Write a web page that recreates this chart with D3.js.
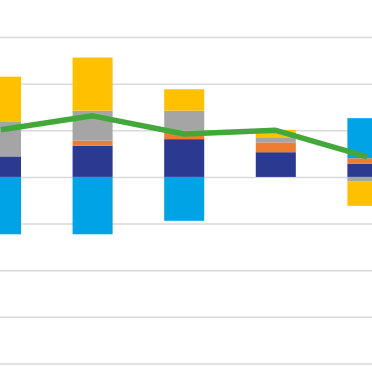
<!DOCTYPE html>
<html>
<head>
<meta charset="utf-8">
<script src="https://cdn.jsdelivr.net/npm/d3@7"></script>
<style>
  html, body { margin: 0; padding: 0; background: #fff; }
  .grid line { stroke: #d9d9d9; stroke-width: 1.5; }
  .grid .domain { display: none; }
</style>
</head>
<body>
<div id="chart"></div>
<script>
const chart_width = 372;
const chart_height = 372;

// categories (no labels visible in the crop)
const categories = ["C1", "C2", "C3", "C4", "C5"];

// stacked series, bottom to top for positives
const darkBlue  = [4.4, 6.7, 8.1, 5.3, 2.8];
const orange    = [0.0, 1.1, 1.8, 2.1, 1.2];
const gray      = [7.4, 6.4, 4.3, 1.1, -0.9];
const yellow    = [9.7, 11.4, 4.6, 1.6, -5.3];
const lightBlue = [-12.3, -12.3, -9.4, 0.0, 8.6];

// green line
const total = [10.1, 13.1, 9.2, 10.0, 4.3];

const gridTicks = [-40, -30, -20, -10, 0, 10, 20, 30];

const seriesKeys = ["darkBlue", "orange", "gray", "yellow", "lightBlue"];
const seriesColors = {
    darkBlue: "#2b3990",
    orange: "#ed7d31",
    gray: "#a5a5a5",
    yellow: "#ffc000",
    lightBlue: "#00a3e6"
};

function drawChart(htmlID) {

    let rows = categories.map((c, i) => ({
        cat: c,
        darkBlue: darkBlue[i],
        orange: orange[i],
        gray: gray[i],
        yellow: yellow[i],
        lightBlue: lightBlue[i],
        total: total[i]
    }));

    let svg = d3.select("#" + htmlID)
        .append("svg")
        .attr("width", chart_width)
        .attr("height", chart_height);

    // band scale extends past the visible area (chart is cropped)
    let x = d3.scaleBand()
        .domain(categories)
        .range([-44.8, 413.2])
        .paddingInner(0.563)
        .paddingOuter(0.2815);

    let y = d3.scaleLinear()
        .domain([-40, 30])
        .range([363.5, 37]);

    // gridlines
    svg.append("g")
        .attr("class", "grid")
        .call(d3.axisLeft(y)
            .tickValues(gridTicks)
            .tickSize(-chart_width)
            .tickFormat(""));

    let stack = d3.stack()
        .keys(seriesKeys)
        .offset(d3.stackOffsetDiverging);

    let layers = stack(rows);

    svg.append("g")
        .selectAll("g")
        .data(layers)
        .join("g")
        .attr("fill", d => seriesColors[d.key])
        .selectAll("rect")
        .data(d => d)
        .join("rect")
        .attr("x", d => x(d.data.cat))
        .attr("width", x.bandwidth())
        .attr("y", d => y(Math.max(d[0], d[1])))
        .attr("height", d => Math.abs(y(d[0]) - y(d[1])));

    // total line
    let line = d3.line()
        .x(d => x(d.cat) + x.bandwidth() / 2)
        .y(d => y(d.total));

    svg.append("path")
        .datum(rows)
        .attr("fill", "none")
        .attr("stroke", "#43a83a")
        .attr("stroke-width", 5.5)
        .attr("stroke-linejoin", "round")
        .attr("d", line);
}

window.addEventListener('load', function () {
    drawChart("chart");
});
</script>
</body>
</html>
